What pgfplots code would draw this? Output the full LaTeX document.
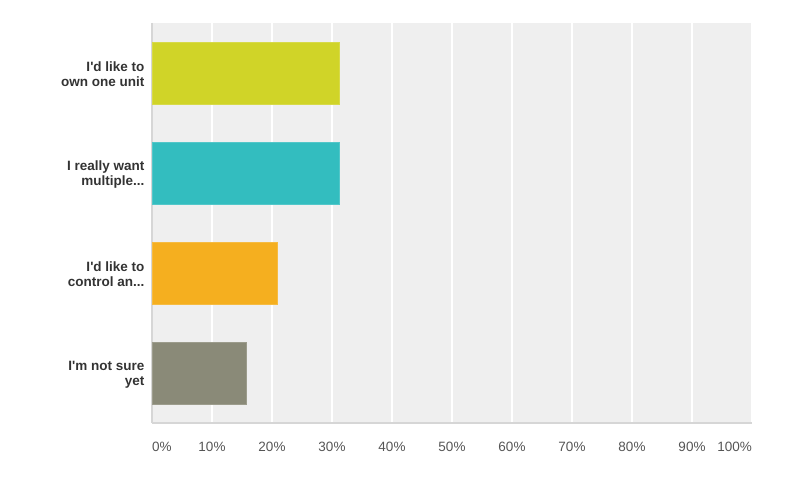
\documentclass[border=0pt]{standalone}
\usepackage{pgfplots}
\pgfplotsset{compat=1.18}
\usepackage{fontspec}
\setmainfont{Liberation Sans}[Ligatures=TeXOff]

\definecolor{barA}{HTML}{D0D428}
\definecolor{barB}{HTML}{33BDBF}
\definecolor{barC}{HTML}{F5AF1F}
\definecolor{barD}{HTML}{8A8A78}
\definecolor{plotbg}{HTML}{EFEFEF}
\definecolor{axisgray}{HTML}{D6D6D6}
\definecolor{labeltext}{HTML}{333333}
\definecolor{ticktext}{HTML}{555555}

\newcommand\dd{.\kern0pt.\kern0pt.}

\begin{document}
\begin{tikzpicture}[x=1pt,y=1pt]
\path[use as bounding box] (0,0) rectangle (788,503);
\begin{axis}[
    at={(152pt,80pt)}, anchor=south west,
    scale only axis, width=600pt, height=400pt,
    xmin=0, xmax=100, ymin=-0.5, ymax=3.5, y dir=reverse,
    xbar, bar width=62pt, bar shift=0pt,
    xtick={0,10,20,30,40,50,60,70,80,90,100},
    xticklabels={\makebox[0pt][l]{0\%},10\%,20\%,30\%,40\%,50\%,60\%,70\%,80\%,90\%,\makebox[0pt][r]{100\%}},
    ytick={0,1,2,3},
    yticklabels={{I'd like to\\own one unit},{I really want\\multiple\dd},{I'd like to\\control an\dd},{I'm not sure\\yet}},
    yticklabel style={align=right, font=\bfseries\fontsize{13.5}{15}\selectfont, text=labeltext, xshift=-4pt, yshift=-1.5pt},
    xticklabel style={font=\fontsize{13.5}{15}\selectfont, text=ticktext, yshift=-16pt},
    /pgf/number format/assume math mode=true,
    major tick length=0pt,
    xmajorgrids, major grid style={white, line width=1.3pt},
    axis background/.style={fill=plotbg},
    axis x line*=bottom, axis y line*=left,
    axis line style={draw=axisgray, line width=2pt, -},
]
\addplot[fill=barA, draw=barA!85!white, line width=0.8pt] coordinates {(31.3,0)};
\addplot[fill=barB, draw=barB!85!white, line width=0.8pt] coordinates {(31.3,1)};
\addplot[fill=barC, draw=barC!85!white, line width=0.8pt] coordinates {(20.9,2)};
\addplot[fill=barD, draw=barD!85!white, line width=0.8pt] coordinates {(15.7,3)};
\end{axis}
\end{tikzpicture}
\end{document}
